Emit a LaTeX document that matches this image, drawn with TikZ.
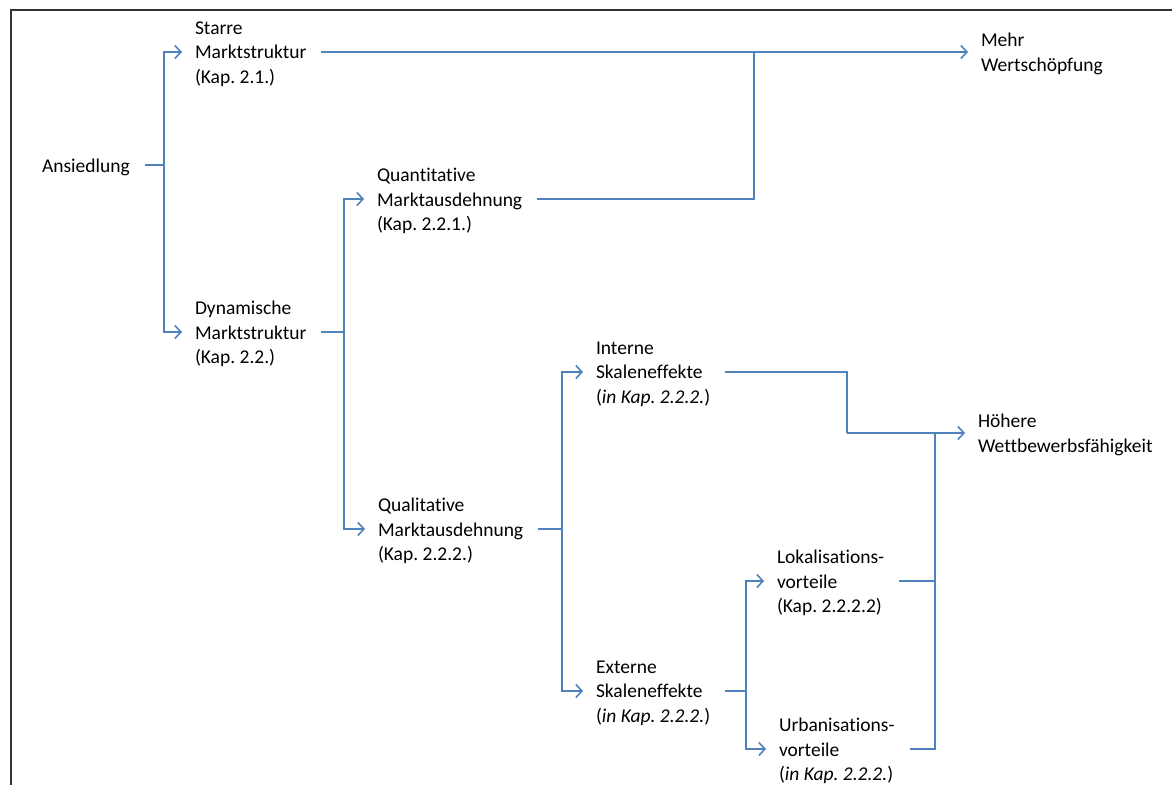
\documentclass[tikz,border=0pt]{standalone}
\usepackage{fontspec}
\setmainfont{Carlito}[Ligatures=NoCommon]
\frenchspacing
\usetikzlibrary{arrows.meta}
\definecolor{lineblue}{HTML}{4F81BD}
\definecolor{frame}{HTML}{333333}
\begin{document}
\begin{tikzpicture}[x=1pt,y=-1pt,
  lbl/.style={anchor=west,align=left,inner sep=0pt,outer sep=0pt,
    font=\fontsize{19.5}{24.5}\selectfont},
  ln/.style={draw=lineblue,line width=1.6pt},
  arr/.style={ln,-{Straight Barb[length=6pt,width=13pt,line width=1.6pt]},shorten >=13pt},
  src/.style={shorten <=15pt}]
\useasboundingbox (0,0) rectangle (1172,785);
\draw[frame,line width=2pt] (11,785) -- (11,10) -- (1172,10);

\node[lbl] (ans) at (42,167) {Ansiedlung};
\node[lbl] (starre) at (195,54) {Starre\\Marktstruktur\\(Kap. 2.1.)};
\node[lbl] (mehr) at (981,54) {Mehr\\Wertschöpfung};
\node[lbl] (dyn) at (195,334) {Dynamische\\Marktstruktur\\(Kap. 2.2.)};
\node[lbl] (quant) at (377,201) {Quantitative\\Marktausdehnung\\(Kap. 2.2.1.)};
\node[lbl] (qual) at (378,531) {Qualitative\\Marktausdehnung\\(Kap. 2.2.2.)};
\node[lbl] (int) at (596,374) {Interne\\Skaleneffekte\\(\textit{in Kap. 2.2.2.})};
\node[lbl] (ext) at (596,693) {Externe\\Skaleneffekte\\(\textit{in Kap. 2.2.2.})};
\node[lbl] (hoe) at (978,435) {Höhere\\Wettbewerbsfähigkeit};
\node[lbl] (lok) at (777,583) {Lokalisations-\\vorteile\\(Kap. 2.2.2.2)};
\node[lbl] (urb) at (779,751) {Urbanisations-\\vorteile\\(\textit{in Kap. 2.2.2.})};

\coordinate (j1) at (164,167);
\coordinate (j2) at (754,54);
\coordinate (j3) at (344,334);
\coordinate (j4) at (562,531);
\coordinate (j5) at (847,435);
\coordinate (j6) at (935,435);
\coordinate (j7) at (746,693);

\begin{scope}[transform canvas={yshift=2pt}]
\draw[ln,src] (ans.east) -- (j1);
\draw[arr] (j1) |- (starre.west);
\draw[arr] (j1) |- (dyn.west);
\draw[arr,src] (starre.east) -- (mehr.west);
\draw[ln,src] (quant.east) -| (j2);
\draw[ln,src] (dyn.east) -- (j3);
\draw[arr] (j3) |- (quant.west);
\draw[arr] (j3) |- (qual.west);
\draw[ln,src] (qual.east) -- (j4);
\draw[arr] (j4) |- (int.west);
\draw[arr] (j4) |- (ext.west);
\draw[ln,src] (int.east) -| (j5);
\draw[arr] (j5) -- (hoe.west);
\draw[ln,src] (lok.east) -| (j6);
\draw[ln,src] (urb.east) -| (j6);
\draw[ln,src] (ext.east) -- (j7);
\draw[arr] (j7) |- (lok.west);
\draw[arr] (j7) |- (urb.west);
\end{scope}
\end{tikzpicture}
\end{document}
